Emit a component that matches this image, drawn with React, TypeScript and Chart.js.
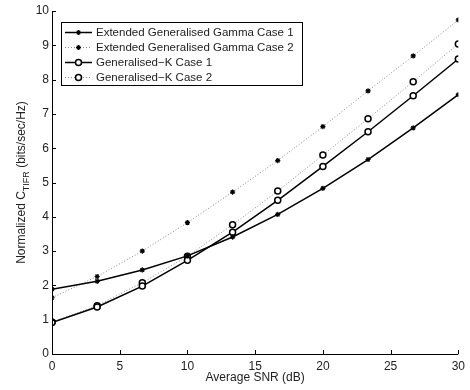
import React, { useEffect, useRef } from "react";
import { Chart, registerables } from "chart.js";

Chart.register(...registerables);

const snr = [0, 3.333, 6.667, 10, 13.333, 16.667, 20, 23.333, 26.667, 30];
const eggCase1 = [1.89, 2.12, 2.45, 2.86, 3.41, 4.07, 4.83, 5.67, 6.59, 7.56];
const eggCase2 = [1.64, 2.26, 3.0, 3.83, 4.72, 5.64, 6.63, 7.67, 8.69, 9.74];
const gkCase1 = [0.92, 1.37, 1.98, 2.73, 3.55, 4.48, 5.47, 6.48, 7.53, 8.6];
const gkCase2 = [0.93, 1.41, 2.08, 2.85, 3.77, 4.75, 5.8, 6.86, 7.94, 9.04];
const seriesLabels = [
  "Extended Generalised Gamma Case 1",
  "Extended Generalised Gamma Case 2",
  "Generalised\u2212K Case 1",
  "Generalised\u2212K Case 2",
];
const xTicks = [0, 5, 10, 15, 20, 25, 30];
const yTicks = [0, 1, 2, 3, 4, 5, 6, 7, 8, 9, 10];

const FONT = "'Liberation Sans', Arial, Helvetica, sans-serif";
const TEXT = "#222";

function drawMarker(ctx: CanvasRenderingContext2D, style: string, x: number, y: number) {
  ctx.save();
  ctx.setLineDash([]);
  ctx.strokeStyle = "#000";
  if (style === "circle") {
    ctx.lineWidth = 1.5;
    ctx.fillStyle = "#fff";
    ctx.beginPath();
    ctx.arc(x, y, 3, 0, Math.PI * 2);
    ctx.fill();
    ctx.stroke();
  } else {
    ctx.lineWidth = 1.2;
    const r = 2.5;
    ctx.beginPath();
    ctx.moveTo(x - r, y);
    ctx.lineTo(x + r, y);
    ctx.moveTo(x, y - r);
    ctx.lineTo(x, y + r);
    const d = r * 0.7;
    ctx.moveTo(x - d, y - d);
    ctx.lineTo(x + d, y + d);
    ctx.moveTo(x - d, y + d);
    ctx.lineTo(x + d, y - d);
    ctx.stroke();
  }
  ctx.restore();
}

const decorPlugin = {
  id: "decor",
  afterDraw(chart: any) {
    const ctx: CanvasRenderingContext2D = chart.ctx;
    const xs = chart.scales.x;
    const ys = chart.scales.y;
    const area = chart.chartArea;
    ctx.save();
    // axis lines
    ctx.strokeStyle = "#000";
    ctx.lineWidth = 1;
    ctx.setLineDash([]);
    ctx.beginPath();
    ctx.moveTo(area.left + 0.5, area.top);
    ctx.lineTo(area.left + 0.5, area.bottom + 0.5);
    ctx.lineTo(area.right, area.bottom + 0.5);
    ctx.stroke();
    // inward ticks
    ctx.beginPath();
    for (const v of xTicks) {
      const px = Math.round(xs.getPixelForValue(v)) + 0.5;
      ctx.moveTo(px, area.bottom);
      ctx.lineTo(px, area.bottom - 4);
    }
    for (const v of yTicks) {
      const py = Math.round(ys.getPixelForValue(v)) + 0.5;
      ctx.moveTo(area.left, py);
      ctx.lineTo(area.left + 4, py);
    }
    ctx.stroke();

    // x title
    ctx.fillStyle = TEXT;
    ctx.font = `12px ${FONT}`;
    ctx.textAlign = "center";
    ctx.textBaseline = "middle";
    ctx.fillText("Average SNR (dB)", (area.left + area.right) / 2, 378);

    // y title with subscript
    const main1 = "Normalized C";
    const sub = "TIFR";
    const main2 = " (bits/sec/Hz)";
    ctx.font = `12px ${FONT}`;
    const w1 = ctx.measureText(main1).width;
    const w3 = ctx.measureText(main2).width;
    ctx.font = `9px ${FONT}`;
    const w2 = ctx.measureText(sub).width;
    const total = w1 + w2 + w3;
    ctx.save();
    ctx.translate(25, (area.top + area.bottom) / 2);
    ctx.rotate(-Math.PI / 2);
    ctx.textAlign = "left";
    ctx.textBaseline = "alphabetic";
    let cx = -total / 2;
    ctx.font = `12px ${FONT}`;
    ctx.fillText(main1, cx, 0);
    cx += w1;
    ctx.font = `9px ${FONT}`;
    ctx.fillText(sub, cx, 4);
    cx += w2;
    ctx.font = `12px ${FONT}`;
    ctx.fillText(main2, cx, 0);
    ctx.restore();

    // legend
    const bx = 61.5, by = 22.5, bw = 241, bh = 63;
    ctx.fillStyle = "#fff";
    ctx.fillRect(bx, by, bw, bh);
    ctx.strokeStyle = "#000";
    ctx.lineWidth = 1;
    ctx.strokeRect(bx, by, bw, bh);
    const rows = [32.5, 47.5, 62.5, 77.5];
    chart.data.datasets.forEach((ds: any, i: number) => {
      const y = rows[i];
      ctx.save();
      ctx.strokeStyle = ds.borderColor;
      ctx.lineWidth = ds.borderWidth;
      ctx.setLineDash(ds.borderDash || []);
      ctx.beginPath();
      ctx.moveTo(65, y);
      ctx.lineTo(92, y);
      ctx.stroke();
      ctx.restore();
      drawMarker(ctx, ds.pointStyle === "circle" ? "circle" : "star", 78.5, y);
      ctx.fillStyle = TEXT;
      ctx.font = `11.5px ${FONT}`;
      ctx.textAlign = "left";
      ctx.textBaseline = "middle";
      ctx.fillText(ds.label, 96, y + 0.5);
    });
    ctx.restore();
  },
};

export default function App() {
  const ref = useRef<HTMLCanvasElement | null>(null);
  useEffect(() => {
    if (!ref.current) return;
    const mk = (data: number[]) => snr.map((x, i) => ({ x, y: data[i] }));
    const solid = { borderColor: "#000", borderWidth: 1.5, borderDash: [] as number[] };
    const dotted = { borderColor: "#888", borderWidth: 1, borderDash: [1, 2] };
    const starPt = {
      pointStyle: "star",
      pointRadius: 2.6,
      pointBorderWidth: 1.2,
      pointBorderColor: "#000",
      pointBackgroundColor: "#000",
    };
    const circPt = {
      pointStyle: "circle",
      pointRadius: 3,
      pointBorderWidth: 1.5,
      pointBorderColor: "#000",
      pointBackgroundColor: "#fff",
    };
    const chart = new Chart(ref.current, {
      type: "line",
      data: {
        datasets: [
          { label: seriesLabels[0], data: mk(eggCase1), ...solid, ...starPt },
          { label: seriesLabels[1], data: mk(eggCase2), ...dotted, ...starPt },
          { label: seriesLabels[2], data: mk(gkCase1), ...solid, ...circPt },
          { label: seriesLabels[3], data: mk(gkCase2), ...dotted, ...circPt },
        ] as any,
      },
      options: {
        animation: false,
        responsive: false,
        devicePixelRatio: 1,
        layout: { padding: { top: 11, right: 11, left: 0, bottom: 0 } },
        plugins: { legend: { display: false }, tooltip: { enabled: false } },
        elements: { line: { tension: 0 } },
        scales: {
          x: {
            type: "linear",
            min: 0,
            max: 30,
            grid: { display: false, drawTicks: false },
            border: { display: false },
            ticks: {
              stepSize: 5,
              padding: 5,
              color: TEXT,
              font: { family: FONT, size: 12 },
              maxRotation: 0,
            },
            afterFit: (s: any) => {
              s.height = 36;
            },
          },
          y: {
            type: "linear",
            min: 0,
            max: 10,
            grid: { display: false, drawTicks: false },
            border: { display: false },
            ticks: {
              stepSize: 1,
              padding: 3,
              color: TEXT,
              font: { family: FONT, size: 12 },
            },
            afterFit: (s: any) => {
              s.width = 52;
            },
          },
        },
      } as any,
      plugins: [decorPlugin],
    });
    return () => chart.destroy();
  }, []);
  return (
    <div style={{ position: "absolute", left: 0, top: 0, width: 470, height: 390, background: "#fff" }}>
      <canvas ref={ref} width={470} height={390} style={{ display: "block", width: 470, height: 390 }} />
    </div>
  );
}
